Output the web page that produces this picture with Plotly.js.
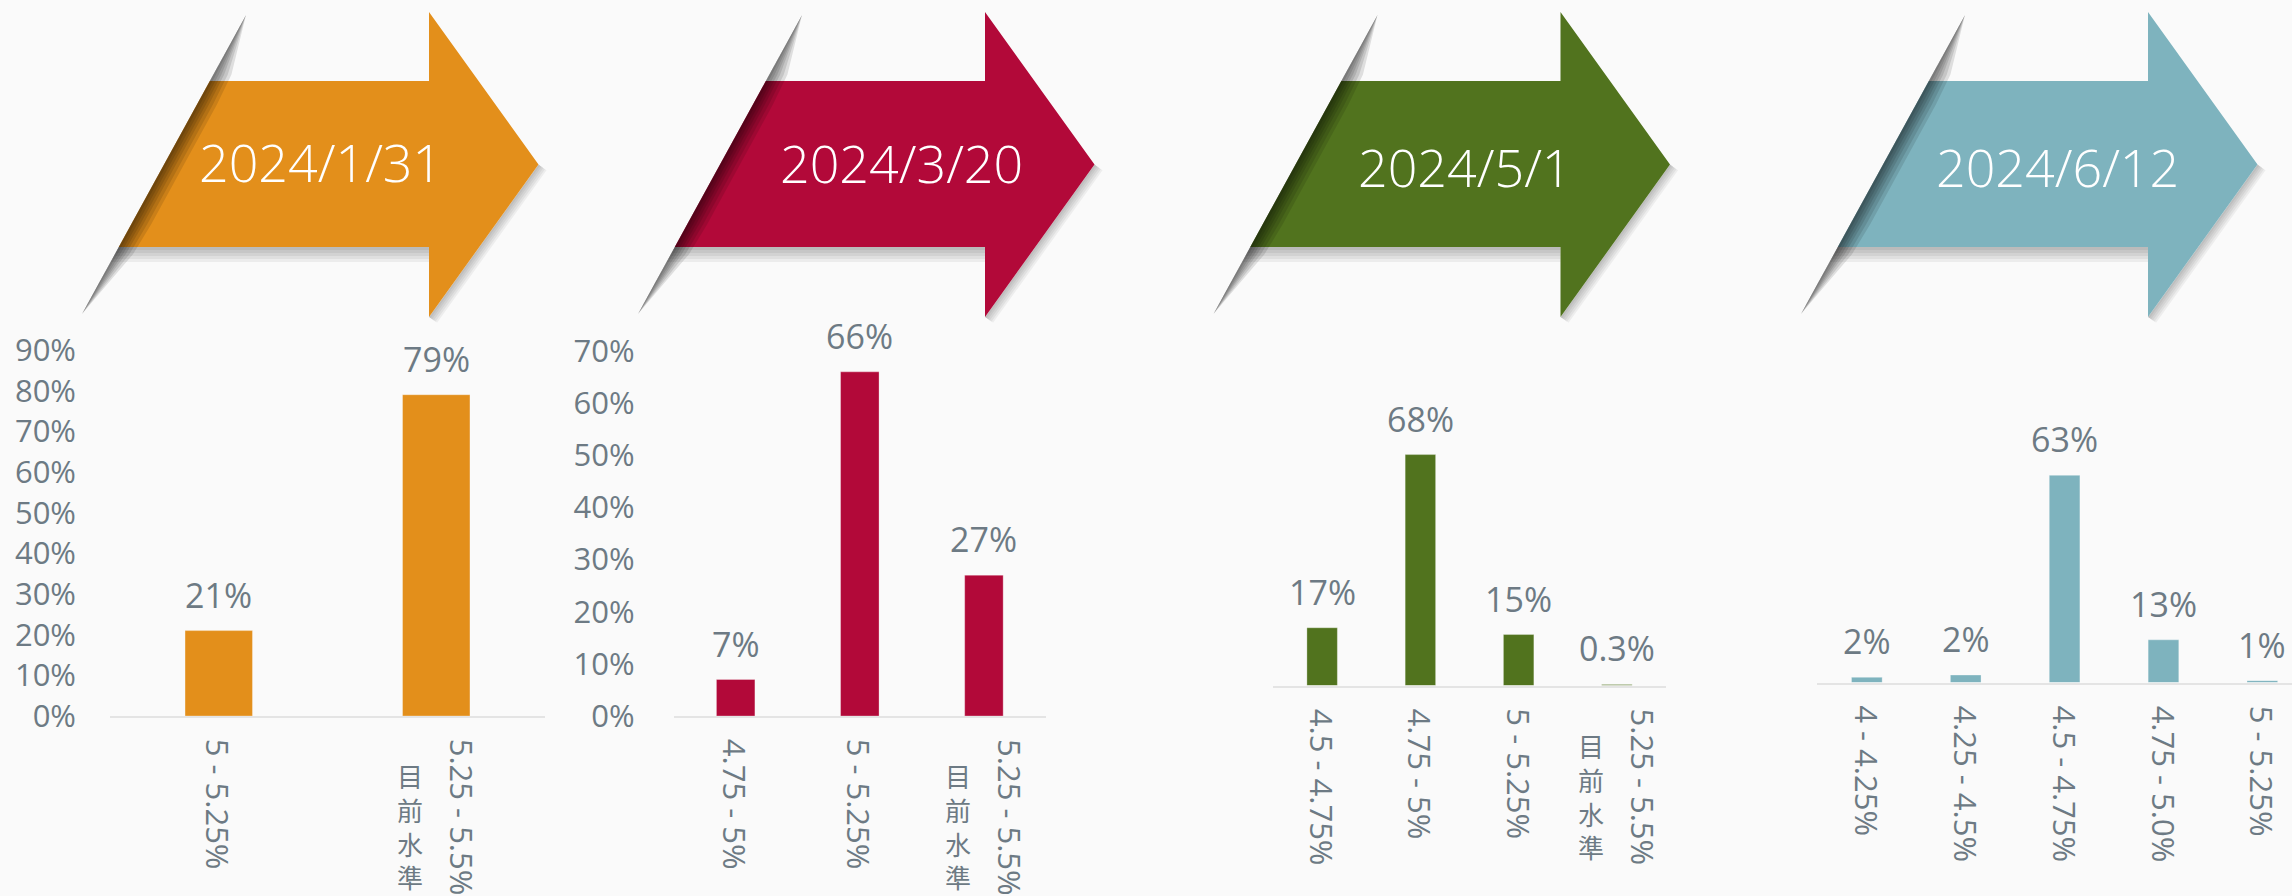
<!DOCTYPE html>
<html>
<head>
<meta charset="utf-8">
<script src="https://cdn.plot.ly/plotly-3.0.1.min.js"></script>
<style>
  html, body { margin: 0; padding: 0; background: #fafafa; }
  #chart { width: 2292px; height: 896px; }
</style>
</head>
<body>
<div id="chart"></div>
<script>
// ---------------- DATA ----------------
const dates = ['2024/1/31', '2024/3/20', '2024/5/1', '2024/6/12'];

const cats1 = ['5 - 5.25%', '5.25 - 5.5%'];
const vals1 = [0.21, 0.79];

const cats2 = ['4.75 - 5%', '5 - 5.25%', '5.25 - 5.5%'];
const vals2 = [0.07, 0.66, 0.27];

const cats3 = ['4.5 - 4.75%', '4.75 - 5%', '5 - 5.25%', '5.25 - 5.5%'];
const vals3 = [0.17, 0.68, 0.15, 0.003];

const cats4 = ['4 - 4.25%', '4.25 - 4.5%', '4.5 - 4.75%', '4.75 - 5.0%', '5 - 5.25%'];
const vals4 = [0.016, 0.023, 0.63, 0.13, 0.006];

const currentLevel = '5.25 - 5.5%';
const currentLabel = '目前水準';

const yTicks12 = [0, 0.1, 0.2, 0.3, 0.4, 0.5, 0.6, 0.7, 0.8, 0.9];

// ---------------- STYLE ----------------
const W = 2292, H = 896;
const colors = ['#E38F1B', '#B20939', '#51731E', '#7EB3BE'];
const textGray = '#6d7a84';
const FONT = '"Open Sans", "Noto Sans CJK TC", sans-serif';
const CJK = '"Noto Sans CJK TC", "Open Sans", sans-serif';
const labelDecimals = [0, 0, 1, 0];

const panels = [
  {cats: cats1, vals: vals1, x0: 110,   x1: 545,  y0: 350, y1: 716,   ymax: 0.9,   showY: true,  standoff: 33},
  {cats: cats2, vals: vals2, x0: 673.6, x1: 1046, y0: 351, y1: 716,   ymax: 0.7,   showY: true,  standoff: 38},
  {cats: cats3, vals: vals3, x0: 1273,  x1: 1666.4, y0: 350, y1: 685.5, ymax: 0.988, showY: false},
  {cats: cats4, vals: vals4, x0: 1817.4, x1: 2292, y0: 350, y1: 682.6, ymax: 1.011, showY: false, xmax: 4.3}
];

const arrowOffsets = [0, 556, 1131.5, 1719];
const dateCenters = [[320.4, 161.7], [901, 163], [1465, 166.7], [2057, 166.7]];

// ---------------- HELPERS ----------------
const px = x => x / W;
const py = y => 1 - y / H;
function poly(points) {
  return 'M' + points.map(p => px(p[0]).toFixed(6) + ',' + py(p[1]).toFixed(6)).join('L') + 'Z';
}
function fmt(v, d) {
  let s = (v * 100).toFixed(d);
  if (s.indexOf('.') >= 0) s = s.replace(/\.?0+$/, '');
  return s + '%';
}

const data = [];
const layout = {
  width: W, height: H,
  margin: {l: 0, r: 0, t: 0, b: 0},
  paper_bgcolor: '#fafafa',
  plot_bgcolor: 'rgba(0,0,0,0)',
  showlegend: false,
  bargap: 0.69,
  font: {family: FONT, color: textGray},
  shapes: [],
  annotations: []
};

panels.forEach((p, i) => {
  const n = i === 0 ? '' : String(i + 1);
  const xa = 'x' + n, ya = 'y' + n;
  data.push({
    type: 'bar', x: p.cats, y: p.vals, xaxis: xa, yaxis: ya,
    marker: {color: colors[i], line: {color: 'rgba(255,255,255,0.3)', width: 1}},
    hoverinfo: 'skip'
  });
  const xaxis = {
    domain: [px(p.x0), px(p.x1)], anchor: ya, type: 'category',
    showticklabels: false, ticks: '', showgrid: false, zeroline: false,
    showline: true, linecolor: '#e4e4e4', linewidth: 2, fixedrange: true
  };
  if (p.xmax !== undefined) { xaxis.range = [-0.5, p.xmax]; xaxis.autorange = false; }
  const yaxis = {
    domain: [py(p.y1), py(p.y0)], anchor: xa, range: [0, p.ymax],
    showgrid: false, zeroline: false, showline: false, ticks: '',
    showticklabels: p.showY, tickmode: 'array', tickvals: yTicks12.filter(v => v <= p.ymax + 1e-9),
    tickformat: '.0%', tickfont: {family: FONT, size: 31, color: textGray},
    ticklabelstandoff: p.standoff || 0, fixedrange: true
  };
  layout['xaxis' + n] = xaxis;
  layout['yaxis' + n] = yaxis;

  p.cats.forEach((c, k) => {
    const v = p.vals[k];
    // data label
    layout.annotations.push({
      xref: xa, yref: ya, x: c, y: v, text: fmt(v, labelDecimals[i]),
      showarrow: false, xanchor: 'center', yanchor: 'bottom', yshift: 11,
      font: {family: FONT, size: 34, color: textGray}
    });
    // category label (rotated)
    const isCur = c === currentLevel;
    layout.annotations.push({
      xref: xa, yref: ya, x: c, y: 0, text: c, textangle: 90,
      showarrow: false, xanchor: 'center', yanchor: 'top', yshift: -21,
      xshift: isCur ? 26.5 : 0,
      font: {family: FONT, size: 31, color: textGray}
    });
    if (isCur) {
      // CJK characters stay upright, stacked vertically
      layout.annotations.push({
        xref: xa, yref: ya, x: c, y: 0, text: Array.from(currentLabel).join('<br>'),
        showarrow: false, xanchor: 'center', yanchor: 'top', align: 'center',
        yshift: -40, xshift: -26, borderpad: 0,
        font: {family: CJK, size: 26, color: textGray}
      });
    }
  });
});

// ---------------- ARROWS ----------------
arrowOffsets.forEach((o, i) => {
  const xL = y => o + 246 + (82 - 246) * (y - 15) / 299;
  const headX = o + 429, tip = [o + 538.5, 164.5], headBot = [o + 429, 317];
  // shadow beneath shaft
  [3, 6, 9, 12, 15].forEach(h => {
    layout.shapes.push({type: 'path', xref: 'paper', yref: 'paper', layer: 'above',
      path: poly([[xL(247), 247], [headX, 247], [headX, 247 + h], [xL(247 + h), 247 + h]]),
      fillcolor: 'rgba(0,0,0,0.055)', line: {width: 0}});
  });
  // shadow along lower head edge
  [2, 4, 6, 8, 10].forEach(d => {
    const ox = d * 0.81, oy = d * 0.58;
    layout.shapes.push({type: 'path', xref: 'paper', yref: 'paper', layer: 'above',
      path: poly([tip, [tip[0] + ox, tip[1] + oy], [headBot[0] + ox, headBot[1] + oy], headBot]),
      fillcolor: 'rgba(0,0,0,0.05)', line: {width: 0}});
  });
  // arrow body
  layout.shapes.push({type: 'path', xref: 'paper', yref: 'paper', layer: 'above',
    path: poly([[xL(81), 81], [headX, 81], [headX, 12], tip, headBot, [headX, 247], [xL(247), 247]]),
    fillcolor: colors[i], line: {width: 0}});
  // slit shadow (over the arrow)
  const ts = [0, 0.04, 0.1, 0.2, 0.3, 0.5, 0.7, 0.8, 0.9, 0.96, 1];
  const f = t => Math.max(0, Math.min(1, t / 0.22, (1 - t) / 0.22));
  [3, 6, 9, 12, 16, 20].forEach(w => {
    const left = ts.map(t => [xL(15 + 299 * t), 15 + 299 * t]);
    const right = ts.slice().reverse().map(t => [xL(15 + 299 * t) + w * f(t), 15 + 299 * t]);
    layout.shapes.push({type: 'path', xref: 'paper', yref: 'paper', layer: 'above',
      path: poly(left.concat(right)), fillcolor: 'rgba(0,0,0,0.11)', line: {width: 0}});
  });
  // date label
  layout.annotations.push({
    xref: 'paper', yref: 'paper', x: px(dateCenters[i][0]), y: py(dateCenters[i][1]),
    xanchor: 'center', yanchor: 'middle', showarrow: false, text: dates[i],
    font: {family: FONT, size: 52, color: '#ffffff', weight: 300}
  });
});

Plotly.newPlot('chart', data, layout, {displayModeBar: false, staticPlot: true});
</script>
</body>
</html>
